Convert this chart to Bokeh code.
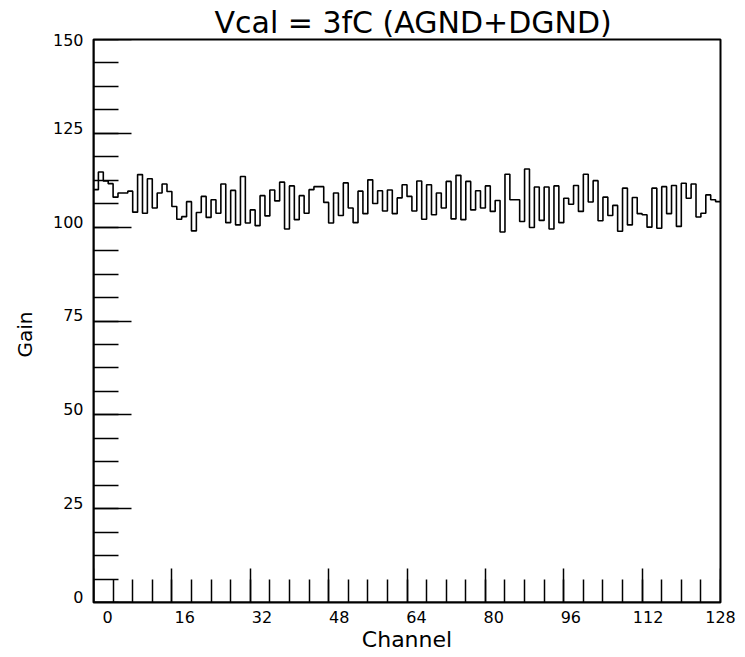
from bokeh.plotting import figure
from bokeh.models import FixedTicker, LinearAxis, Range1d, Title
from bokeh.embed import file_html
from bokeh.resources import INLINE

# ---------------- data ----------------
channels = list(range(128))
gain = [
    110.0, 114.7, 112.3, 111.6, 108.0, 109.1, 109.1, 109.6,
    104.0, 114.0, 103.7, 112.9, 105.1, 109.1, 111.5, 109.5,
    105.5, 102.1, 102.8, 106.8, 99.0, 103.9, 108.2, 102.6,
    107.3, 103.7, 111.5, 101.2, 109.8, 100.6, 113.5, 101.1,
    104.6, 100.4, 108.4, 103.0, 109.9, 107.0, 112.0, 99.5,
    111.0, 102.0, 108.4, 103.7, 110.0, 110.8, 110.8, 106.6,
    101.1, 109.1, 103.1, 111.8, 105.1, 101.2, 109.6, 103.6,
    112.6, 106.3, 109.7, 104.3, 109.9, 103.6, 107.8, 111.3,
    108.2, 104.3, 112.3, 102.1, 111.3, 103.3, 109.1, 105.1,
    112.2, 102.2, 113.8, 102.0, 112.2, 104.6, 109.7, 105.1,
    111.0, 104.2, 107.1, 98.7, 114.1, 107.3, 107.3, 101.5,
    115.5, 99.9, 110.7, 101.8, 110.7, 99.5, 111.0, 101.2,
    107.7, 106.1, 111.1, 104.2, 114.1, 106.7, 112.4, 101.7,
    108.0, 103.1, 105.8, 98.9, 110.4, 100.6, 107.9, 103.6,
    103.3, 100.0, 110.4, 99.7, 110.8, 103.6, 111.1, 100.2,
    111.7, 107.7, 111.5, 102.7, 103.7, 108.6, 107.3, 106.8,
]
x_tick_labels = [0, 16, 32, 48, 64, 80, 96, 112, 128]
y_tick_labels = [0, 25, 50, 75, 100, 125, 150]
x_minor_step = 4
y_minor_step = 6.25
title_text = "Vcal = 3fC (AGND+DGND)"
x_title = "Channel"
y_title = "Gain"

# ---------------- layout ----------------
W, H = 745, 657
FL, FR, FT, FB = 93, 720, 39, 602   # frame edges in pixels
XMIN, XMAX = 0, 128
YMIN, YMAX = 0, 150

# PAW writes its tick labels on a slightly shifted / compressed scale:
# these ranges (same frame) place the label texts where PAW puts them.
XLAB_RANGE = (-2.9, 127.0)     # label axis range across the frame width
YLAB_RANGE = (-1.5, 148.5)     # labels sit ~5 px above their ticks

FONT = "DejaVu Sans"

p = figure(width=W, height=H,
           x_range=Range1d(XMIN, XMAX), y_range=Range1d(YMIN, YMAX),
           x_axis_type=None, y_axis_type=None,
           output_backend="svg", toolbar_location=None,
           min_border_left=FL, min_border_right=W - FR,
           min_border_top=FT, min_border_bottom=H - FB,
           title=title_text)
p.background_fill_color = "white"
p.border_fill_color = "white"
p.outline_line_color = "black"
p.outline_line_width = 2

p.title.align = "left"
p.title.offset = 121
p.title.standoff = 0
p.title.text_font = FONT
p.title.text_font_size = "30px"
p.title.text_font_style = "normal"
p.title.text_color = "black"

p.extra_x_ranges = {"xlab": Range1d(*XLAB_RANGE)}
p.extra_y_ranges = {"ylab": Range1d(*YLAB_RANGE)}


def tick_axis(ticker, tin, minor_in):
    return LinearAxis(ticker=ticker, fixed_location=0,
                      axis_line_width=2, axis_line_color="black",
                      major_tick_line_width=1.5, minor_tick_line_width=1.5,
                      major_tick_line_color="black", minor_tick_line_color="black",
                      major_tick_in=tin, major_tick_out=0,
                      minor_tick_in=minor_in, minor_tick_out=0,
                      major_label_text_font_size="0px", major_label_standoff=0,
                      major_label_text_color=None)


def label_axis(labels, range_end, standoff, **kw):
    # last label is written at the edge of the frame (range end)
    ticks = [float(v) for v in labels[:-1]] + [range_end]
    overrides = {range_end: str(labels[-1])}
    return LinearAxis(ticker=FixedTicker(ticks=ticks),
                      major_label_overrides=overrides,
                      axis_line_color=None,
                      major_tick_line_color=None, minor_tick_line_color=None,
                      major_tick_in=0, major_tick_out=0,
                      minor_tick_in=0, minor_tick_out=0,
                      major_label_standoff=standoff,
                      major_label_text_font=FONT,
                      major_label_text_font_size="16px",
                      major_label_text_color="black",
                      axis_label_text_font=FONT,
                      axis_label_text_font_style="normal",
                      axis_label_text_color="black", **kw)


x_ticks = tick_axis(FixedTicker(ticks=x_tick_labels,
                                minor_ticks=list(range(XMIN, XMAX + 1, x_minor_step))), 34, 23)
y_ticks = tick_axis(FixedTicker(ticks=y_tick_labels,
                                minor_ticks=[i * y_minor_step for i in range(int(YMAX / y_minor_step) + 1)]), 38, 25)
p.add_layout(x_ticks, "below")
p.add_layout(y_ticks, "left")

x_labels = label_axis(x_tick_labels, XLAB_RANGE[1], 8, x_range_name="xlab",
                      axis_label=x_title, axis_label_standoff=1,
                      axis_label_text_font_size="22px")
y_labels = label_axis(y_tick_labels, YLAB_RANGE[1], 10, y_range_name="ylab")
p.add_layout(x_labels, "below")
p.add_layout(y_labels, "left")

p.add_layout(Title(text=y_title, align="left", offset=245, standoff=21,
                   vertical_align="top",
                   text_font=FONT, text_font_size="20px",
                   text_font_style="normal", text_color="black"), "left")

# histogram outline
xs = channels + [channels[-1] + 1]
ys = gain + [gain[-1]]
p.step(xs, ys, mode="after", line_color="black", line_width=1.6)

open("out.html", "w").write(file_html(p, INLINE))
